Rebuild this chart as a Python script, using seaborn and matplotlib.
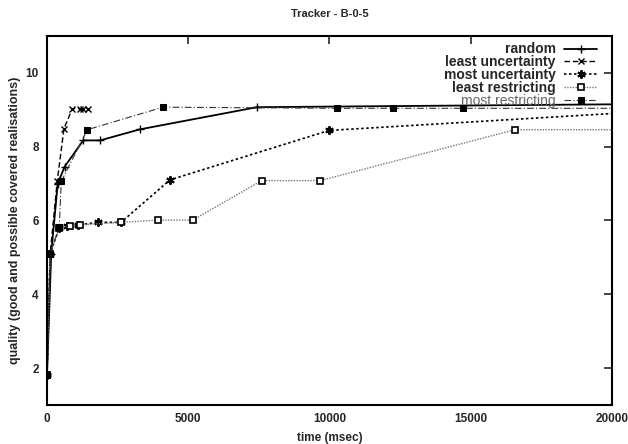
import matplotlib
matplotlib.use("Agg")
import matplotlib.pyplot as plt
import seaborn as sns
import pandas as pd

sns.set_theme(style="white")
plt.rcParams['font.family'] = ['Liberation Sans', 'DejaVu Sans']

# data (time in msec, quality)
random_t = [0, 150, 380, 626, 1285, 1876, 3292, 7434, 22000]
random_q = [1.8, 5.1, 7.0, 7.46, 8.17, 8.17, 8.47, 9.07, 9.16]

lunc_t = [0, 113, 365, 602, 896, 1168, 1285, 1451]
lunc_q = [1.8, 5.1, 7.08, 8.49, 9.03, 9.03, 9.03, 9.03]

munc_t = [0, 113, 435, 700, 1100, 1816, 2620, 4354, 9982, 22000]
munc_q = [1.8, 5.1, 5.8, 5.85, 5.88, 5.95, 5.95, 7.10, 8.44, 8.99]

lres_t = [0, 113, 435, 800, 1168, 2620, 3940, 5157, 7600, 9664, 16566, 22000]
lres_q = [1.8, 5.1, 5.8, 5.85, 5.88, 5.95, 6.01, 6.01, 7.08, 7.08, 8.46, 8.46]

mres_t = [0, 113, 435, 506, 1427, 4106, 10265, 12260, 14717, 22000]
mres_q = [1.8, 5.1, 5.82, 7.06, 8.46, 9.07, 9.04, 9.04, 9.04, 9.04]

labels = ["random", "least uncertainty", "most uncertainty",
          "least restricting", "most restricting"]
x_ticks = [0, 5000, 10000, 15000, 20000]
y_ticks = [2, 4, 6, 8, 10]

fig = plt.figure(figsize=(6.28, 4.44), dpi=100)
ax = fig.add_axes([0.0748, 0.0878, 0.8997, 0.8312])

asterisk = (6, 2, 0)
styles = [
    dict(color="black", linestyle="-", linewidth=1.3, marker="+", markersize=6,
         markeredgewidth=1.0, markeredgecolor="black"),
    dict(color="black", linestyle=(0, (4, 2)), linewidth=1.0, marker="x", markersize=5,
         markeredgewidth=1.0, markeredgecolor="black"),
    dict(color="black", linestyle=(0, (1.5, 1.5)), linewidth=1.2, marker=asterisk, markersize=6,
         markeredgewidth=1.4, markeredgecolor="black"),
    dict(color="#777777", linestyle=(0, (1, 1)), linewidth=1.0, marker="s", markersize=5,
         markerfacecolor="white", markeredgecolor="black", markeredgewidth=1.2),
    dict(color="#333333", linestyle=(0, (6, 2, 1, 2)), linewidth=0.8, marker="s", markersize=5,
         markerfacecolor="black", markeredgecolor="black"),
]
series = [(random_t, random_q), (lunc_t, lunc_q), (munc_t, munc_q),
          (lres_t, lres_q), (mres_t, mres_q)]

for (t, q), lab, st in zip(series, labels, styles):
    df = pd.DataFrame({"t": t, "q": q})
    sns.lineplot(data=df, x="t", y="q", ax=ax, label=lab, sort=False,
                 estimator=None, **st)

ax.set_xlim(0, 20000)
ax.set_ylim(1, 11)
ax.set_xticks(x_ticks)
ax.set_yticks(y_ticks)
ax.tick_params(direction="in", length=6, width=1.2, top=True, right=True,
               labelsize=8.5, pad=6)
for lbl in ax.get_xticklabels() + ax.get_yticklabels():
    lbl.set_fontweight("bold")
for s in ax.spines.values():
    s.set_linewidth(1.5)
    s.set_color("black")

ax.set_xlabel("time (msec)", fontsize=8.5, fontweight="bold", labelpad=5)
ax.set_ylabel("quality (good and possible covered realisations)", fontsize=9,
              fontweight="bold", labelpad=3)
ax.set_title("Tracker - B-0-5", fontsize=8, fontweight="bold", pad=14)

leg = ax.legend(loc="upper right", bbox_to_anchor=(0.985, 1.0), frameon=False,
                markerfirst=False, fontsize=10, handlelength=2.4,
                borderaxespad=0.0, borderpad=0.45,
                labelspacing=-0.08, handletextpad=0.6, handleheight=0.6)
for i, txt in enumerate(leg.get_texts()):
    txt.set_horizontalalignment("right")
    if i == 4:
        txt.set_color("#666666")
    else:
        txt.set_fontweight("bold")
leg._legend_box.align = "right"

fig.savefig("out.png", dpi=100)
